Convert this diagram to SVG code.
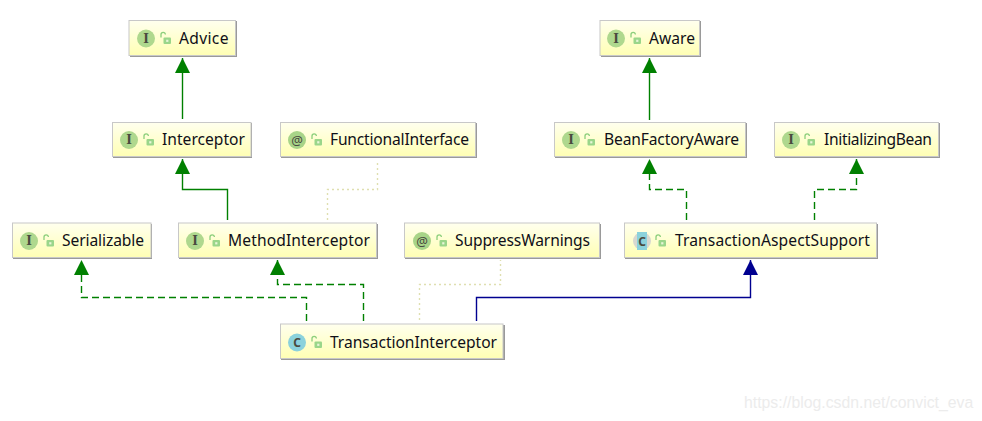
<svg xmlns="http://www.w3.org/2000/svg" width="982" height="421" viewBox="0 0 982 421">
<style>
text{font-family:"Noto Sans","Open Sans","Liberation Sans",sans-serif}
.box{fill:url(#g);stroke:#c8c8c8;stroke-width:1}
.sh{fill:#9a9a9a}
.lbl{font-size:15.6px;fill:#101018}
.ic{font-size:12px;font-weight:bold;fill:#4a4a40;text-anchor:middle}
.at{font-size:13px;font-weight:normal}
.icm{font-family:"DejaVu Serif",serif}
.i{fill:#afd88e}
.c{fill:#8bd2dc}
.a{fill:#a8d488}
.ln{fill:none;stroke-width:1.4}
.gr{stroke:#008000}
.da{stroke-dasharray:7 4}
.bl{stroke:#000090}
.dt{stroke:#dfdfb0;stroke-dasharray:2 3}
</style>
<defs>
<linearGradient id="g" x1="0" y1="0" x2="0" y2="1"><stop offset="0" stop-color="#ffffee"/><stop offset="1" stop-color="#ffffb4"/></linearGradient>
<g id="lock"><path d="M-5 -1.500V-4.500a2.200 2.200 0 0 1 4.400 0" fill="none" stroke="#8ccf7c" stroke-width="1.300"/><rect x="-2.500" y="-1.500" width="7.500" height="6.500" rx="1" fill="#9ad68a"/><rect x="0.200" y="0.700" width="2.200" height="2.200" fill="#e8f5d8"/></g>
<marker id="ag" markerUnits="userSpaceOnUse" markerWidth="16" markerHeight="16" refX="15" refY="8" orient="auto"><path d="M0 0.500L15 8L0 15.500Z" fill="#008000"/></marker>
<marker id="ab" markerUnits="userSpaceOnUse" markerWidth="16" markerHeight="16" refX="15" refY="8" orient="auto"><path d="M0 0.500L15 8L0 15.500Z" fill="#000090"/></marker>
</defs>
<rect width="982" height="421" fill="#fff"/>
<g id="connectors">
<path class="ln gr" d="M182.500 119V58" marker-end="url(#ag)"/>
<path class="ln gr" d="M227.500 220V189.500H182.500V159" marker-end="url(#ag)"/>
<path class="ln gr" d="M649.500 120V58" marker-end="url(#ag)"/>
<path class="ln gr da" d="M686.500 220V189.500H649.500V159" marker-end="url(#ag)"/>
<path class="ln gr da" d="M814.500 220V189.500H856.500V159" marker-end="url(#ag)"/>
<path class="ln gr da" d="M306.500 321V297.500H81.500V260" marker-end="url(#ag)"/>
<path class="ln gr da" d="M363.500 321V284.500H277.500V260" marker-end="url(#ag)"/>
<path class="ln bl" d="M476.500 321V297.500H750.500V260" marker-end="url(#ab)"/>
<path class="ln dt" d="M327.500 220V189.500H377.500V160"/>
<path class="ln dt" d="M419.500 320V284.500H500.500V260"/>
</g>
<g id="advice"><rect class="sh" x="130" y="21" width="107" height="36"/><rect class="box" x="129" y="20.500" width="106.500" height="35"/><circle class="i" cx="146" cy="38.500" r="9"/><text class="ic icm" x="146" y="42.500">I</text><use href="#lock" x="166" y="39"/><text class="lbl" x="179" y="44" textLength="49.500">Advice</text></g>
<g id="aware"><rect class="sh" x="601" y="21" width="100" height="36"/><rect class="box" x="600" y="20.500" width="99.500" height="35"/><circle class="i" cx="616" cy="38.500" r="9"/><text class="ic icm" x="616" y="42.500">I</text><use href="#lock" x="636" y="39"/><text class="lbl" x="649" y="44" textLength="46">Aware</text></g>
<g id="interceptor"><rect class="sh" x="113" y="123" width="139" height="35"/><rect class="box" x="112.500" y="122.500" width="138.500" height="34"/><circle class="i" cx="129" cy="140" r="9"/><text class="ic icm" x="129" y="144">I</text><use href="#lock" x="149" y="140.500"/><text class="lbl" x="162" y="145" textLength="83">Interceptor</text></g>
<g id="functionalinterface"><rect class="sh" x="281" y="123" width="196" height="35"/><rect class="box" x="280.500" y="122.500" width="195" height="34"/><circle class="a" cx="297" cy="140" r="9"/><text class="ic at" x="297" y="144.500">@</text><use href="#lock" x="317" y="140.500"/><text class="lbl" x="330" y="145" textLength="139">FunctionalInterface</text></g>
<g id="beanfactoryaware"><rect class="sh" x="555" y="123" width="192" height="35"/><rect class="box" x="554.500" y="122.500" width="191" height="34"/><circle class="i" cx="571" cy="140" r="9"/><text class="ic icm" x="571" y="144">I</text><use href="#lock" x="590" y="140.500"/><text class="lbl" x="604" y="145" textLength="135">BeanFactoryAware</text></g>
<g id="initializingbean"><rect class="sh" x="775" y="123" width="165" height="35"/><rect class="box" x="774.500" y="122.500" width="164" height="34"/><circle class="i" cx="791" cy="140" r="9"/><text class="ic icm" x="791" y="144">I</text><use href="#lock" x="810" y="140.500"/><text class="lbl" x="824" y="145" textLength="108">InitializingBean</text></g>
<g id="serializable"><rect class="sh" x="13" y="224" width="139" height="35"/><rect class="box" x="12.500" y="223" width="138.500" height="34.500"/><circle class="i" cx="29" cy="241" r="9"/><text class="ic icm" x="29" y="245">I</text><use href="#lock" x="49" y="241.500"/><text class="lbl" x="62" y="246" textLength="82">Serializable</text></g>
<g id="methodinterceptor"><rect class="sh" x="179" y="224" width="199" height="35"/><rect class="box" x="178.500" y="223" width="198" height="34.500"/><circle class="i" cx="195" cy="241" r="9"/><text class="ic icm" x="195" y="245">I</text><use href="#lock" x="215" y="241.500"/><text class="lbl" x="228" y="246" textLength="142">MethodInterceptor</text></g>
<g id="suppresswarnings"><rect class="sh" x="405" y="224" width="196" height="35"/><rect class="box" x="404.500" y="223" width="195" height="34.500"/><circle class="a" cx="422" cy="241" r="9"/><text class="ic at" x="422" y="245.500">@</text><use href="#lock" x="442" y="241.500"/><text class="lbl" x="455" y="246" textLength="135">SuppressWarnings</text></g>
<g id="transactionaspectsupport"><rect class="sh" x="625" y="224" width="253" height="35"/><rect class="box" x="624.500" y="223" width="252" height="34.500"/><circle cx="642" cy="241" r="9" fill="#d8d8d0"/><rect x="637" y="232" width="10" height="18" fill="#8bd2dc"/><text class="ic" x="642" y="245.500">C</text><use href="#lock" x="661" y="241.500"/><text class="lbl" x="675" y="246" textLength="195">TransactionAspectSupport</text></g>
<g id="transactioninterceptor"><rect class="sh" x="281" y="325" width="224" height="35"/><rect class="box" x="280.500" y="324" width="222.500" height="34.500"/><circle class="c" cx="297" cy="342.500" r="9"/><text class="ic" x="297" y="347">C</text><use href="#lock" x="317" y="343"/><text class="lbl" x="330" y="348" textLength="167">TransactionInterceptor</text></g>
<text x="744" y="408" font-size="15.800" fill="#ececec" style="font-family:'Liberation Sans',sans-serif">https://blog.csdn.net/convict_eva</text>
</svg>
